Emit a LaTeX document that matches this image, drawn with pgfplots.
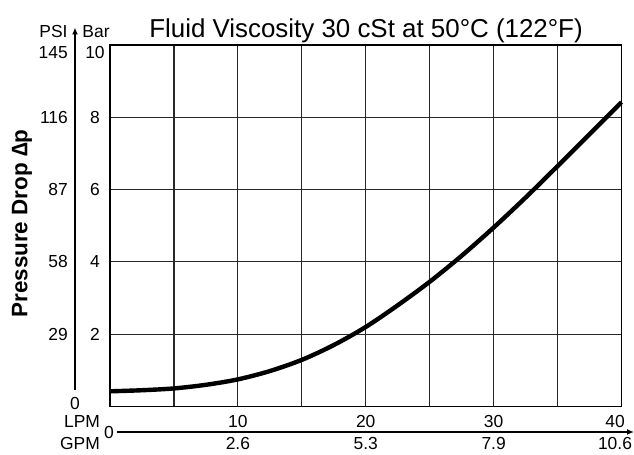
\documentclass[border=0pt]{standalone}
\usepackage{pgfplots}
\pgfplotsset{compat=1.18}
\usepackage{fontspec}
\setmainfont{Liberation Sans}
\usetikzlibrary{arrows.meta}

\definecolor{gridgray}{RGB}{40,40,40}

\begin{document}
\begin{tikzpicture}
\useasboundingbox (-110bp,-48.5bp) rectangle (524bp,406.5bp);

\begin{axis}[
    at={(0,0)}, anchor=south west,
    scale only axis,
    width=511.5bp, height=361.5bp,
    xmin=0, xmax=40,
    ymin=0, ymax=10,
    xtick={5,10,...,35},
    ytick={2,4,6,8},
    xticklabels={}, yticklabels={},
    major tick length=0pt,
    grid=major,
    grid style={gridgray, line width=1.2bp},
    axis line style={black, line width=1.7bp},
    clip=false,
]

% pressure drop curve (bar vs LPM)
\addplot[black, line width=4.4bp, smooth, tension=0.5] coordinates {
    (0,0.42) (2.5,0.45) (5,0.50) (7.5,0.60) (10,0.75) (12.5,0.98)
    (15,1.29) (17.5,1.70) (20,2.20) (22.5,2.80) (25,3.45) (27.5,4.17)
    (30,4.95) (32.5,5.78) (35,6.65) (37.5,7.53) (40,8.42)
};

% Bar labels
\foreach \v in {2,4,6,8} {
    \edef\tmp{\noexpand\node[font=\noexpand\fontsize{17.5}{20}\noexpand\selectfont] at ([xshift=-15bp]axis cs:0,\v) {\v};}
    \tmp
}
% PSI labels
\foreach \v/\p in {2/29,4/58,6/87,8/116} {
    \edef\tmp{\noexpand\node[anchor=east, inner sep=0pt, font=\noexpand\fontsize{17.5}{20}\noexpand\selectfont] at ([xshift=-42bp]axis cs:0,\v) {\p};}
    \tmp
}
% LPM / GPM labels
\foreach \v/\g in {10/2.6,20/5.3,30/7.9} {
    \edef\tmp{\noexpand\node[font=\noexpand\fontsize{17.5}{20}\noexpand\selectfont] at ([yshift=-15bp]axis cs:\v,0) {\v};
    \noexpand\node[font=\noexpand\fontsize{17.5}{20}\noexpand\selectfont] at ([yshift=-36.5bp]axis cs:\v,0) {\g};}
    \tmp
}
\end{axis}

\tikzset{lab/.style={font=\fontsize{17.5}{20}\selectfont, inner sep=0pt}}

% top-of-scale labels
\node[lab] at (-15bp,353.8bp) {10};
\node[lab, anchor=east] at (-42bp,353.8bp) {145};
\node[lab] at (-56.5bp,375bp) {PSI};
\node[lab] at (-14bp,375bp) {Bar};
\node[lab] at (-35bp,3.5bp) {0};

% bottom labels
\node[lab] at (505bp,-15bp) {40};
\node[lab] at (505bp,-36.5bp) {10.6};
\node[lab] at (-28bp,-15.2bp) {LPM};
\node[lab] at (-30bp,-36.5bp) {GPM};
\node[lab] at (-1bp,-25.5bp) {0};

% axis arrows
\draw[line width=1.5bp, -{Latex[length=7bp,width=6bp]}] (-35bp,16.5bp) -- (-35bp,379bp);
\draw[line width=1.5bp, -{Latex[length=7bp,width=6bp]}] (7bp,-25.5bp) -- (524bp,-25.5bp);

% titles
\node[font=\fontsize{26}{30}\selectfont, inner sep=0pt] at (256bp,376bp) {Fluid Viscosity 30 cSt at 50°C (122°F)};
\node[font=\bfseries\fontsize{22.5}{26}\selectfont, rotate=90, inner sep=0pt] at (-88bp,183bp) {Pressure Drop \symbol{"2206}p};
\end{tikzpicture}
\end{document}
